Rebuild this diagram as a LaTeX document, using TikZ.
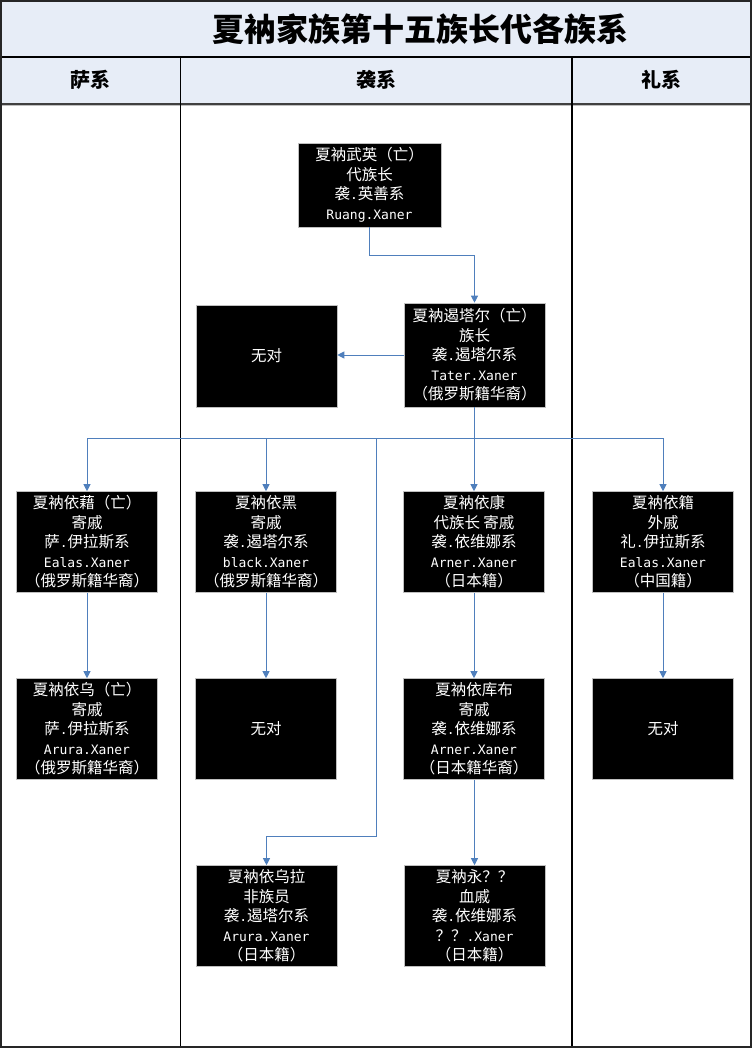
\documentclass[tikz,border=0pt]{standalone}
\usepackage{fontspec}
\setmainfont{Noto Sans CJK SC}
\newfontfamily\monofam{DejaVu Sans Mono}
\newcommand\lat[1]{{\monofam\fontsize{13}{19.5}\selectfont #1}}
\newcommand\dt{\lat{.}}
\usetikzlibrary{arrows.meta,calc}
\definecolor{bandfill}{HTML}{E7EDF7}
\definecolor{connblue}{HTML}{4F7FBC}
\begin{document}
\begin{tikzpicture}[x=1pt,y=-1pt,
  person/.style={rectangle,fill=black,draw=gray!50,line width=0.6pt,text=white,align=center,
    minimum width=141pt,minimum height=101pt,inner sep=0pt,font=\fontsize{15.5}{19.5}\selectfont},
  conn/.style={draw=connblue,line width=1pt,-{Triangle[width=7pt,length=7pt]}},
  hdr/.style={font=\fontsize{20}{20}\selectfont\bfseries,text=black}]
\useasboundingbox (0,0) rectangle (752,1048);
% bands
\fill[bandfill] (1,1) rectangle (751,104);
\draw[line width=2.5pt,black] (1,57) -- (751,57);
\draw[line width=1.2pt,black!75] (1,104) -- (751,104);
\draw[line width=0.6pt,black!25] (1,105.5) -- (751,105.5);
\draw[line width=1.2pt,black] (180.5,57) -- (180.5,1047);
\draw[line width=1.2pt,black] (572,57) -- (572,1047);
\draw[line width=2pt,black!85] (1,1) rectangle (751,1047);
% title and headers
\node[font=\fontsize{32}{32}\selectfont\bfseries] (title) at (420,29) {夏衲家族第十五族长代各族系};
\node[hdr] (hsa) at (90,80) {萨系};
\node[hdr] (hxi) at (376,80) {袭系};
\node[hdr] (hli) at (661,80) {礼系};
% persons
\node[person,minimum width=143pt,minimum height=84pt] (wuying) at (369.5,185) {夏衲武英（亡）\\代族长\\袭\dt 英善系\\\lat{Ruang.Xaner}};
\node[person,minimum height=104pt] (tater) at (474.5,355) {夏衲遏塔尔（亡）\\族长\\袭\dt 遏塔尔系\\\lat{Tater.Xaner}\\（俄罗斯籍华裔）};
\node[person,minimum height=102pt] (wudui1) at (266.5,356) {无对};
\node[person] (yijie) at (87,542) {夏衲依藉（亡）\\寄戚\\萨\dt 伊拉斯系\\\lat{Ealas.Xaner}\\（俄罗斯籍华裔）};
\node[person] (yihei) at (266,542) {夏衲依黑\\寄戚\\袭\dt 遏塔尔系\\\lat{black.Xaner}\\（俄罗斯籍华裔）};
\node[person] (yikang) at (474,542) {夏衲依康\\代族长 寄戚\\袭\dt 依维娜系\\\lat{Arner.Xaner}\\（日本籍）};
\node[person] (yiji) at (663,542) {夏衲依籍\\外戚\\礼\dt 伊拉斯系\\\lat{Ealas.Xaner}\\（中国籍）};
\node[person] (yiwu) at (87,729) {夏衲依乌（亡）\\寄戚\\萨\dt 伊拉斯系\\\lat{Arura.Xaner}\\（俄罗斯籍华裔）};
\node[person] (wudui2) at (266,729) {无对};
\node[person] (yikubu) at (474,729) {夏衲依库布\\寄戚\\袭\dt 依维娜系\\\lat{Arner.Xaner}\\（日本籍华裔）};
\node[person] (wudui3) at (663,729) {无对};
\node[person] (yiwula) at (266.5,916) {夏衲依乌拉\\非族员\\袭\dt 遏塔尔系\\\lat{Arura.Xaner}\\（日本籍）};
\node[person] (yong) at (474.5,916) {夏衲永？？\\血戚\\袭\dt 依维娜系\\？？\lat{.Xaner}\\（日本籍）};
% connectors
\draw[conn] (wuying.south) -- ++(0,28) -| (tater.north);
\draw[conn] (tater.west) -- (tater.west -| wudui1.east);
\coordinate (bus) at (474,438);
\coordinate (turn) at (376,836);
\draw[conn] (tater.south -| yikang.north) -- (yikang.north);
\draw[conn] (bus) -| (yijie.north);
\draw[conn] (bus) -| (yihei.north);
\draw[conn] (bus) -| (yiji.north);
\draw[conn] (bus) -| (turn) -| (yiwula.north);
\draw[conn] (yijie.south) -- (yiwu.north);
\draw[conn] (yihei.south) -- (wudui2.north);
\draw[conn] (yikang.south) -- (yikubu.north);
\draw[conn] (yiji.south) -- (wudui3.north);
\draw[conn] (yikubu.south -| yong.north) -- (yong.north);
\end{tikzpicture}
\end{document}
